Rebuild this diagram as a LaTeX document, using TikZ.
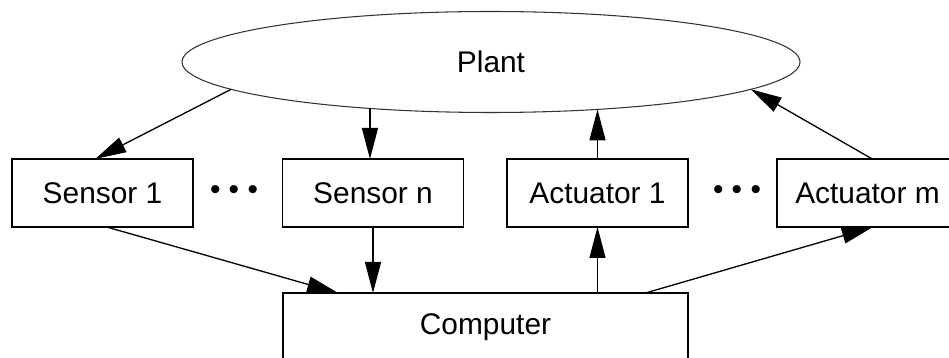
\documentclass[tikz,border=0pt]{standalone}
\usepackage{fontspec}
\setmainfont{Liberation Sans}
\usepackage{tikz}
\usetikzlibrary{
    shapes.geometric,
    arrows.meta
}

\begin{document}
\begin{tikzpicture}[
    >={Triangle[length=0.62cm, width=0.32cm]},
    every node/.style={font=\fontsize{17}{20}\selectfont},
    box/.style={draw=black, line width=1pt, fill=white, inner sep=0pt, outer sep=0pt, minimum width=3.62cm, minimum height=1.36cm},
    plantshape/.style={ellipse, draw=black!80, line width=0.6pt, inner sep=0pt, outer sep=0pt, minimum width=12.36cm, minimum height=2.02cm},
    dotsnode/.style={inner sep=0pt},
    link/.style={->, line width=0.75pt, black}
]

% ==================== PAGE ====================
\useasboundingbox (0,0) rectangle (18.98,7.16);
\clip (0,0) rectangle (18.98,7.16);

% ==================== PLANT ====================
\node[plantshape] (plant) at (9.82, 5.92) {Plant};

% ==================== SENSORS AND ACTUATORS ====================
\foreach \name/\xpos/\txt in {
    s1/2.05/Sensor 1,
    sn/7.46/Sensor n,
    a1/11.95/Actuator 1,
    am/17.35/Actuator m
} {
    \node[box] (\name) at (\xpos, 3.30) {\txt};
}

\node[dotsnode] (sdots) at (4.68, 3.30) {\textbullet\ \textbullet\ \textbullet};
\node[dotsnode] (adots) at (14.74, 3.30) {\textbullet\ \textbullet\ \textbullet};

% ==================== COMPUTER ====================
\node[box, minimum width=8.1cm] (comp) at (9.71, 0.62) {Computer};

% Plant to sensors
\draw[link] (plant.186.7) -- (s1.102);
\draw[link] (plant.201.6) -- (plant.201.6 |- sn.north);

% Actuators to plant
\draw[link] (a1.north) -- (a1.north |- plant.336);
\draw[link] (am.82) -- (plant.354.7);

% Sensors to computer
\draw[link] (s1.277.5) -- (comp.167);
\draw[link] (sn.south) -- (sn.south |- comp.north);

% Computer to actuators
\draw[link] (a1.south |- comp.north) -- (a1.south);
\draw[link] (comp.12.3) -- (am.279);

\end{tikzpicture}
\end{document}
